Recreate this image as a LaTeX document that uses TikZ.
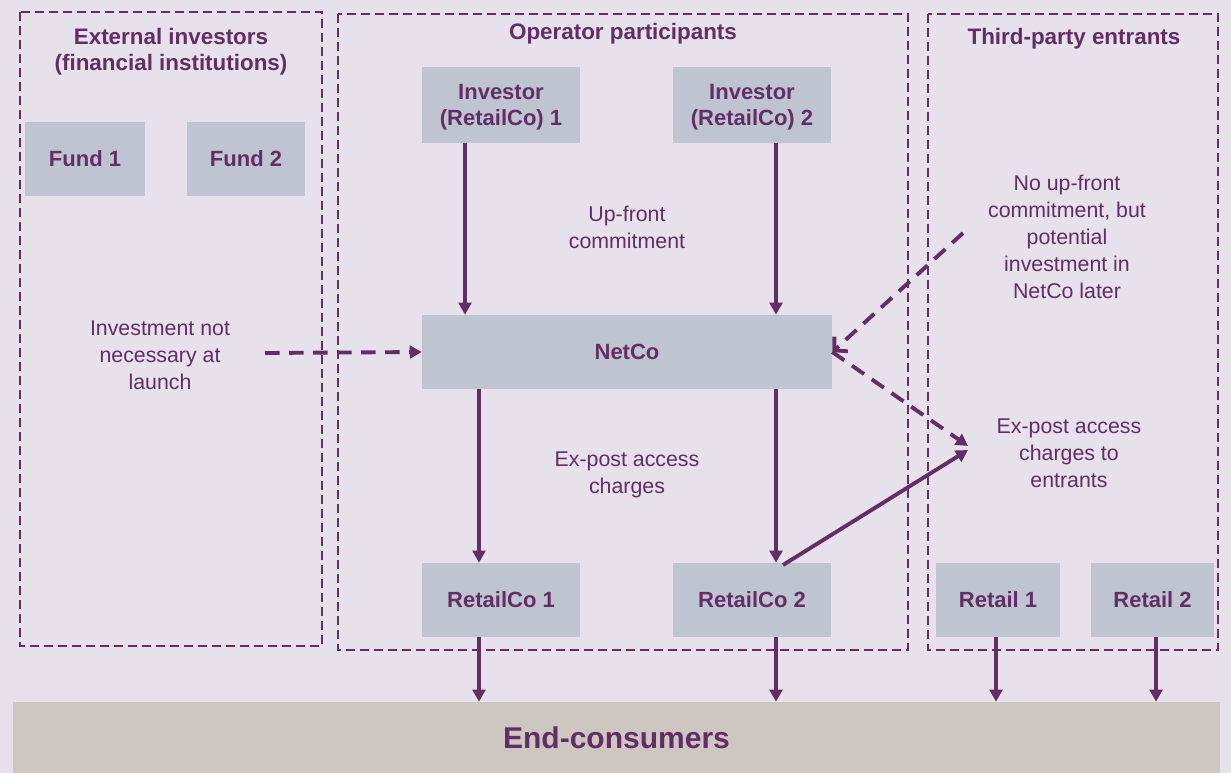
\documentclass[tikz,border=0pt]{standalone}
\usepackage{fontspec}
\setmainfont{Liberation Sans}
\usetikzlibrary{arrows.meta}
\definecolor{bgc}{HTML}{E6E1EA}
\definecolor{boxc}{HTML}{BFC5D0}
\definecolor{purp}{HTML}{632D65}
\definecolor{endc}{HTML}{CEC6C1}
\begin{document}
\begin{tikzpicture}[x=0.75pt,y=-0.75pt,
  grp/.style={draw=purp,line width=2pt,dash pattern=on 6.5pt off 4pt},
  ent/.style={fill=boxc,text=purp,font=\fontsize{16.5}{19.5}\selectfont\bfseries,align=center,inner sep=0pt,text depth=0pt},
  lbl/.style={text=purp,font=\fontsize{16}{20.2}\selectfont,align=center,inner sep=0pt},
  ttl/.style={text=purp,font=\fontsize{16.8}{19.5}\selectfont\bfseries,align=center,inner sep=0pt},
  flow/.style={draw=purp,line width=2.9pt,-{Triangle[length=9pt,width=9.5pt]}},
  dflow/.style={flow,dash pattern=on 11pt off 7pt},
]
\useasboundingbox[fill=bgc] (0,0) rectangle (1231,773);
% groups
\draw[grp] (20,12) rectangle (322,646);
\draw[grp] (338,14) rectangle (908,650);
\draw[grp] (928,14) rectangle (1218,650);
\node[ttl] (t1) at (171,52) {External investors\\(financial institutions)};
\node[ttl] (t2) at (623,34) {Operator participants};
\node[ttl] (t3) at (1074,39) {Third-party entrants};
% entities
\node[ent,minimum width=120*0.75pt,minimum height=74*0.75pt] (f1) at (85,159) {Fund 1};
\node[ent,minimum width=118*0.75pt,minimum height=74*0.75pt] (f2) at (246,159) {Fund 2};
\node[ent,minimum width=158*0.75pt,minimum height=76*0.75pt] (i1) at (501,105) {Investor\\(RetailCo) 1};
\node[ent,minimum width=158*0.75pt,minimum height=76*0.75pt] (i2) at (752,105) {Investor\\(RetailCo) 2};
\node[ent,minimum width=410*0.75pt,minimum height=74*0.75pt] (net) at (627,352) {NetCo};
\node[ent,minimum width=158*0.75pt,minimum height=74*0.75pt] (r1) at (501,600) {RetailCo 1};
\node[ent,minimum width=158*0.75pt,minimum height=74*0.75pt] (r2) at (752,600) {RetailCo 2};
\node[ent,minimum width=124*0.75pt,minimum height=74*0.75pt] (e1) at (998,600) {Retail 1};
\node[ent,minimum width=123*0.75pt,minimum height=74*0.75pt] (e2) at (1152.5,600) {Retail 2};
\node[fill=endc,text=purp,font=\fontsize{22.5}{26}\selectfont\bfseries,minimum width=1207*0.75pt,minimum height=71*0.75pt,inner sep=0pt,text depth=0pt] (end) at (616.5,737.5) {End-consumers};
% labels
\node[lbl] (l1) at (627,227) {Up-front\\commitment};
\node[lbl] (l2) at (627,475) {Ex-post access\\charges};
\node[lbl] (l3) at (160,355) {Investment not\\necessary at\\launch};
\node[lbl] (l4) at (1067,237) {No up-front\\commitment, but\\potential\\investment in\\NetCo later};
\node[lbl] (l5) at (1069,453) {Ex-post access\\charges to\\entrants};
% connectors
\coordinate (a3) at (265,353);
\coordinate (a4) at (963,233);
\coordinate (a5) at (968,446);
\coordinate (a6) at (783,565);
\draw[flow] (i1.south -| 465,0) -- (net.north -| 465,0);
\draw[flow] (i2.south -| 776,0) -- (net.north -| 776,0);
\draw[flow] (net.south -| 479,0) -- (r1.north -| 479,0);
\draw[flow] (net.south -| 776,0) -- (r2.north -| 776,0);
\draw[flow] (r1.south -| 479,0) -- (end.north -| 479,0);
\draw[flow] (r2.south -| 776,0) -- (end.north -| 776,0);
\draw[flow] (e1.south -| 996,0) -- (end.north -| 996,0);
\draw[flow] (e2.south -| 1156,0) -- (end.north -| 1156,0);
\draw[dflow] (a3) -- (net.west);
\draw[flow,dash pattern=on 11pt off 7pt,-{Straight Barb[length=7pt,width=15pt]}] (a4) -- (net.east);
\draw[dflow] (net.east) -- (a5);
\draw[flow] (a6) -- (968,450);
\end{tikzpicture}
\end{document}
